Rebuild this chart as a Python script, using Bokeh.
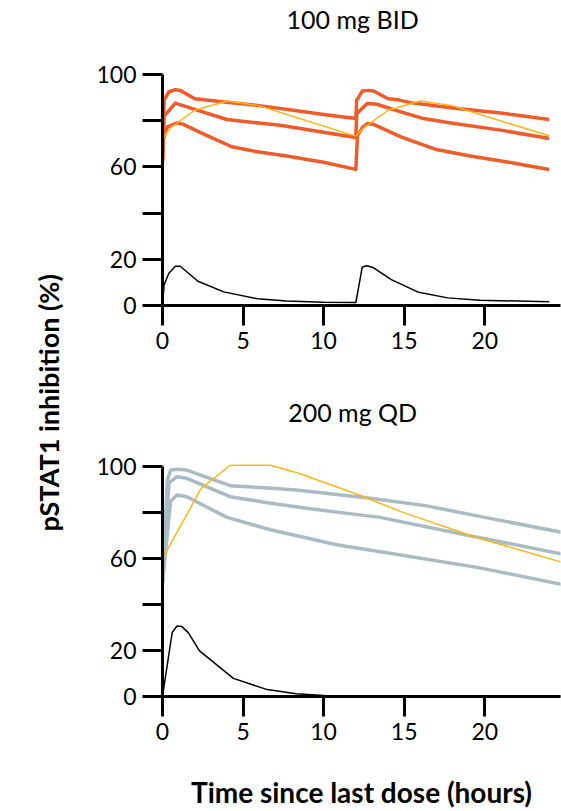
from math import pi
from bokeh.plotting import figure
from bokeh.layouts import row, column
from bokeh.models import FixedTicker, Range1d, Label
from bokeh.embed import file_html
from bokeh.resources import INLINE

# ---------------- data ----------------
x_ticks = [0, 5, 10, 15, 20]
y_ticks = [0, 20, 40, 60, 80, 100]
y_tick_labels = {0: "0", 20: "20", 40: "", 60: "60", 80: "", 100: "100"}

# 100 mg BID
bid_upper_t = [0, 0.1, 0.4, 0.8, 1.1, 2.0, 4.0, 6.0, 8.0, 10.0, 12.0, 12.05, 12.4, 12.8, 13.1, 14.0, 14.5, 15.4, 18, 21, 24]
bid_upper_v = [63, 89, 92.5, 93.4, 93.1, 89.5, 88.0, 86.5, 84.6, 82.7, 80.9, 88.8, 92.8, 93.1, 92.8, 89.5, 89.2, 87.8, 85.5, 83.3, 80.5]
bid_mid_t = [0, 0.1, 0.8, 2.0, 4.0, 7.3, 10, 12.0, 12.05, 12.7, 13.3, 14.8, 16.2, 17.9, 21, 24]
bid_mid_v = [63, 82, 87.6, 84.9, 80.5, 78, 75, 72.7, 83, 87.4, 87.1, 83.8, 80.9, 79, 75.9, 72.3]
bid_low_t = [0, 0.05, 0.3, 0.9, 1.3, 2.5, 4.3, 5.9, 7.7, 10, 12.0, 12.1, 12.4, 12.7, 13.1, 14.8, 17, 19.1, 21.5, 24]
bid_low_v = [62, 72, 77.3, 79, 78.4, 74.4, 68.7, 66.5, 64.7, 62, 58.9, 73.5, 77, 78.7, 78.4, 73, 67.5, 64.7, 62, 58.9]
bid_obs_t = [0, 0.5, 2, 4, 6, 8, 12, 12.5, 14, 16, 18, 20, 24]
bid_obs_v = [72, 77, 84.5, 88.5, 86.5, 82, 73.3, 77, 84.5, 88.5, 86.5, 82, 73.5]
bid_pk_t = [0, 0.1, 0.4, 0.8, 1.1, 2.2, 3.8, 5.9, 7.7, 10, 12, 12.4, 12.7, 13.1, 14.2, 15.9, 17.7, 19.7, 24]
bid_pk_v = [0, 9, 14, 17, 17, 10.5, 5.9, 2.9, 1.9, 1.4, 1.3, 16.7, 17.2, 16.3, 11.2, 5.7, 3.3, 2.3, 1.6]

# 200 mg QD
qd_upper_t = [0, 0.3, 0.5, 0.9, 1.5, 4.2, 6.3, 8.3, 12.9, 16.4, 20, 25]
qd_upper_v = [49.5, 94, 98.6, 99, 98.6, 91.8, 90.9, 89.9, 86.3, 83, 78, 71.2]
qd_mid_t = [0, 0.4, 0.9, 1.5, 4.2, 6.5, 9.4, 13.5, 19.3, 25]
qd_mid_v = [49.5, 93, 95.7, 95, 87, 84.4, 81.5, 78, 69.7, 61.8]
qd_low_t = [0, 0.5, 0.9, 1.5, 4.0, 6.7, 10.8, 14.6, 19.7, 25]
qd_low_v = [49.5, 85, 87.7, 87, 78, 72.6, 66.1, 61.8, 56, 48.5]
qd_obs_t = [0, 2.4, 4.2, 6.7, 8.5, 12.5, 14.8, 19.3, 25]
qd_obs_v = [60, 90.6, 100.7, 100.7, 97.1, 87, 80.5, 69.7, 58]
qd_pk_t = [0, 0.6, 0.9, 1.2, 1.6, 2.3, 4.4, 6.5, 8.3, 10, 12, 25]
qd_pk_v = [0, 27.8, 30.7, 30.5, 27.8, 19.9, 7.9, 3, 1.2, 0.4, 0, 0]

ORANGE = "#F15A29"
GOLD = "#FDB515"
GREY = "#A9BBC5"
FONT = "Lato"


def style_axes(p):
    for ax in (p.xaxis[0], p.yaxis[0]):
        ax.axis_line_width = 3
        ax.axis_line_color = "black"
        ax.major_tick_line_width = 3
        ax.major_tick_line_color = "black"
        ax.major_tick_out = 20
        ax.major_tick_in = 0
        ax.minor_tick_line_color = None
        ax.major_label_text_font = FONT
        ax.major_label_text_font_size = "23px"
        ax.major_label_text_color = "black"
        ax.major_label_standoff = 6
    p.xaxis[0].ticker = FixedTicker(ticks=x_ticks)
    p.yaxis[0].ticker = FixedTicker(ticks=y_ticks)
    p.yaxis[0].major_label_overrides = y_tick_labels
    p.yaxis[0].bounds = (0, 100)
    p.grid.visible = False
    p.outline_line_color = None


def make_panel(title, height, ytop, bottom, title_y):
    # the frame is extended upward so the panel title sits inside it; the axis spans 0-100 only
    p = figure(width=481, height=height, x_range=Range1d(0, 24.7), y_range=Range1d(0, ytop),
               output_backend="svg", toolbar_location=None,
               min_border_left=82, min_border_right=1, min_border_top=0, min_border_bottom=bottom)
    style_axes(p)
    p.add_layout(Label(x=11.8, y=title_y, text=title, text_align="center",
                       text_baseline="alphabetic", text_font=FONT, text_font_size="25px",
                       text_color="black"))
    return p


top = make_panel("100 mg BID", 380, 132, 75, 124)
top.line(bid_upper_t, bid_upper_v, line_color=ORANGE, line_width=3.5, line_join="round")
top.line(bid_mid_t, bid_mid_v, line_color=ORANGE, line_width=3.5, line_join="round")
top.line(bid_low_t, bid_low_v, line_color=ORANGE, line_width=3.5, line_join="round")
top.line(bid_obs_t, bid_obs_v, line_color=GOLD, line_width=1.5)
top.line(bid_pk_t, bid_pk_v, line_color="black", line_width=1.5)

bot = make_panel("200 mg QD", 431, 137.6, 113, 124)
bot.line(qd_upper_t, qd_upper_v, line_color=GREY, line_width=3.5, line_join="round")
bot.line(qd_mid_t, qd_mid_v, line_color=GREY, line_width=3.5, line_join="round")
bot.line(qd_low_t, qd_low_v, line_color=GREY, line_width=3.5, line_join="round")
bot.line(qd_obs_t, qd_obs_v, line_color=GOLD, line_width=1.5)
bot.line(qd_pk_t, qd_pk_v, line_color="black", line_width=1.5)
bot.xaxis[0].axis_label = "Time since last dose (hours)"
bot.xaxis[0].axis_label_text_font = FONT
bot.xaxis[0].axis_label_text_font_style = "bold"
bot.xaxis[0].axis_label_text_font_size = "28px"
bot.xaxis[0].axis_label_text_color = "black"
bot.xaxis[0].axis_label_standoff = 32

lab = figure(width=80, height=811, x_range=Range1d(0, 1), y_range=Range1d(0, 1),
             output_backend="svg", toolbar_location=None, min_border=0)
lab.axis.visible = False
lab.grid.visible = False
lab.outline_line_color = None
lab.add_layout(Label(x=0.6, y=0.504, text="pSTAT1 inhibition (%)", angle=pi / 2,
                     text_align="center", text_baseline="middle", text_font=FONT,
                     text_font_style="bold", text_font_size="27px", text_color="black"))

layout = row(lab, column(top, bot))
open("out.html", "w").write(file_html(layout, INLINE))
